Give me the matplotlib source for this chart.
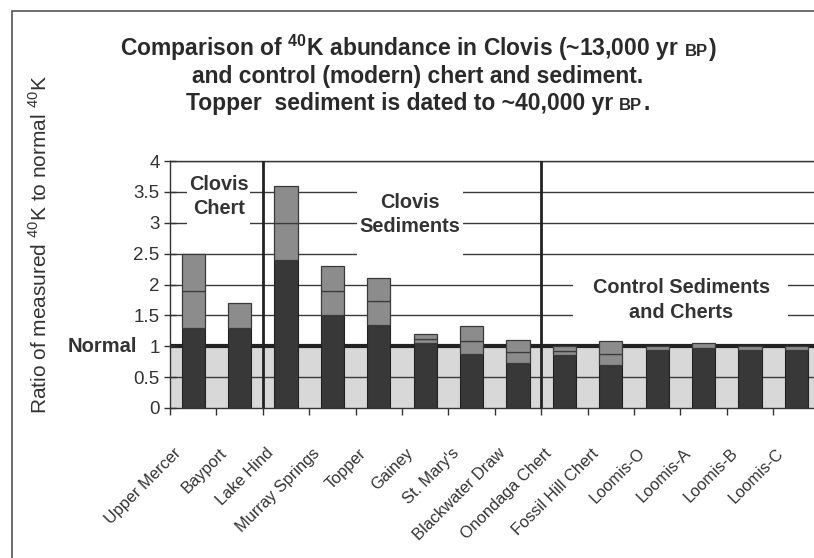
import numpy as np
import matplotlib
matplotlib.use("Agg")
import matplotlib.pyplot as plt
from matplotlib.patches import Rectangle
from matplotlib.transforms import ScaledTranslation

plt.rcParams['font.family'] = ['Liberation Sans', 'DejaVu Sans']
plt.rcParams['mathtext.fontset'] = 'custom'
plt.rcParams['mathtext.rm'] = 'Liberation Sans'
plt.rcParams['mathtext.bf'] = 'Liberation Sans:bold'

# ---- data ----
categories = ["Upper Mercer", "Bayport", "Lake Hind", "Murray Springs", "Topper",
              "Gainey", "St. Mary's", "Blackwater Draw", "Onondaga Chert",
              "Fossil Hill Chert", "Loomis-O", "Loomis-A", "Loomis-B", "Loomis-C"]
base_vals = [1.30, 1.30, 2.40, 1.50, 1.35, 1.05, 0.87, 0.73, 0.86, 0.70, 0.94, 0.97, 0.94, 0.94]
mid_vals = [0.60, 0.40, 0.60, 0.40, 0.38, 0.07, 0.22, 0.17, 0.07, 0.17, 0.07, 0.08, 0.07, 0.07]
top_vals = [0.60, 0.00, 0.60, 0.40, 0.38, 0.08, 0.23, 0.20, 0.08, 0.21, 0.00, 0.00, 0.00, 0.00]
y_ticks = [0, 0.5, 1, 1.5, 2, 2.5, 3, 3.5, 4]
y_ticklabels = ["0", "0.5", "1", "1.5", "2", "2.5", "3", "3.5", "4"]
group_breaks = [1.5, 7.5]

W, H = 814, 558
fig = plt.figure(figsize=(W / 100, H / 100), dpi=100)
fig.patch.set_facecolor('white')

n = len(categories)
step = 46.4
ax = fig.add_axes([170 / W, 150 / H, step * n / W, 247 / H])
ax.set_xlim(-0.5, n - 0.5)
ax.set_ylim(0, 4)
ax.set_facecolor('white')

# light band below normal
ax.axhspan(0, 1, color='#d8d8d8', zorder=0, lw=0)
# gridlines
for yv in y_ticks[1:]:
    if yv == 1:
        continue
    ax.axhline(yv, color='#3a3a3a', lw=1.0, zorder=1)
ax.axhline(1, color='#222222', lw=3.0, zorder=1.5)

# white masks behind group labels
for (x0, x1, y0, y1) in [(-0.13, 1.22, 2.85, 3.65), (3.53, 5.81, 2.4, 3.6), (8.19, 12.82, 1.4, 2.1)]:
    ax.add_patch(Rectangle((x0, y0), x1 - x0, y1 - y0, facecolor='white', edgecolor='none', zorder=2))

x = np.arange(n)
base = np.array(base_vals)
mid = np.array(mid_vals)
top = np.array(top_vals)
ax.bar(x, base, width=0.5, color='#383838', edgecolor='#222222', lw=0.8, zorder=3)
ax.bar(x, mid, width=0.5, bottom=base, color='#8c8c8c', edgecolor='#3a3a3a', lw=0.9, zorder=3)
mask = top > 0
ax.bar(x[mask], top[mask], width=0.5, bottom=(base + mid)[mask], color='#8c8c8c',
       edgecolor='#3a3a3a', lw=0.9, zorder=3)

for xb in group_breaks:
    ax.axvline(xb, color='#222222', lw=2.0, zorder=4)

# group labels
lab_kw = dict(ha='center', va='center', fontsize=14.3, fontweight='bold', color='#333333',
              linespacing=1.35, zorder=5)
ax.text(0.55, 3.42, "Clovis\nChert", **lab_kw)
ax.text(4.67, 3.13, "Clovis\nSediments", **lab_kw)
ax.text(10.52, 1.75, "Control Sediments\nand Cherts", **lab_kw)

# spines
for s in ['top', 'bottom', 'left']:
    ax.spines[s].set_color('#333333')
    ax.spines[s].set_linewidth(1.0)
ax.spines['right'].set_visible(False)

# y ticks
ax.set_yticks(y_ticks)
ax.set_yticklabels(y_ticklabels)
ax.tick_params(axis='y', direction='inout', length=9, width=1, colors='#333333',
               labelsize=13.5, pad=3)
ax.annotate("Normal", xy=(0, 1), xycoords=('axes fraction', 'data'),
            xytext=(-33, 0), textcoords='offset pixels', ha='right', va='center',
            fontsize=14.5, fontweight='bold', color='#333333')

# x ticks: boundaries (major), labels at centers (minor)
ax.set_xticks(np.arange(-0.5, n, 1.0))
ax.set_xticklabels([])
ax.tick_params(axis='x', which='major', direction='out', length=5, width=1, colors='#333333')
ax.set_xticks(x, minor=True)
ax.set_xticklabels(categories, minor=True, rotation=45, ha='right', va='center',
                   rotation_mode='anchor', fontsize=11.8, color='#333333')
ax.tick_params(axis='x', which='minor', length=0, pad=31)
off = ScaledTranslation(-15 / 100, 0, fig.dpi_scale_trans)
for lbl in ax.get_xticklabels(minor=True):
    lbl.set_transform(lbl.get_transform() + off)

# y label
fig.text(40 / W, 1 - 245 / H, r"Ratio of measured $^{40}$K to normal $^{40}$K", rotation=90,
         ha='center', va='center', fontsize=15, color='#333333')

# title lines with small-caps BP
renderer = fig.canvas.get_renderer()
def title_line(yb, parts, xc=418):
    texts, gaps = [], []
    for (s, fs, gap) in parts:
        t = fig.text(0, 1 - yb / H, s, fontsize=fs, fontweight='bold', color='#2a2a2a',
                     ha='left', va='baseline')
        texts.append(t)
        gaps.append(gap)
    widths = [t.get_window_extent(renderer).width for t in texts]
    total = sum(widths) + sum(gaps)
    xpos = xc - total / 2
    for t, w, g in zip(texts, widths, gaps):
        xpos += g
        t.set_x(xpos / W)
        xpos += w

title_line(56, [(r"Comparison of $^{\mathbf{40}}$K abundance in Clovis (~13,000 yr", 16.5, 0),
                ("BP", 12, 6), (")", 16.5, 1)])
title_line(83, [("and control (modern) chert and sediment.", 16.5, 0)])
title_line(110, [("Topper  sediment is dated to ~40,000 yr", 16.5, 0), ("BP", 12, 6), (".", 16.5, 1)])

# figure frame
fig.add_artist(Rectangle((12 / W, -0.2), 1.2, 1.2 - 11 / H, transform=fig.transFigure,
                         fill=False, edgecolor='#555555', lw=1.2))

fig.savefig("out.png", dpi=100, facecolor='white')
